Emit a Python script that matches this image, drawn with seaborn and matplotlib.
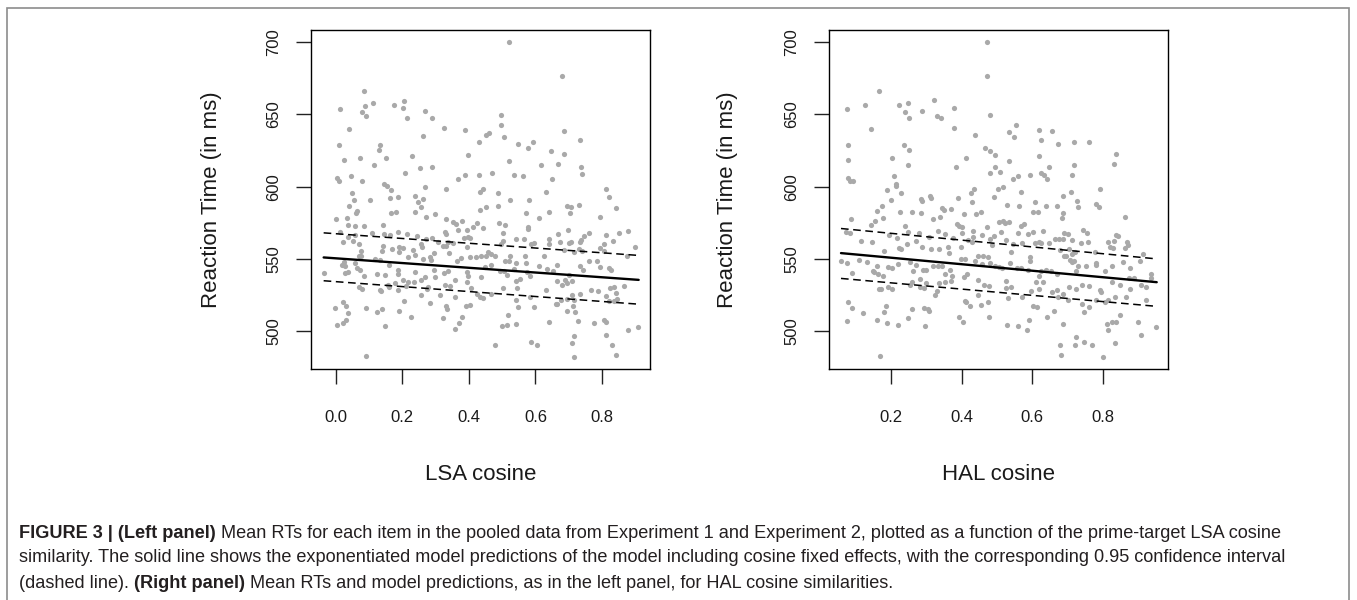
import matplotlib
matplotlib.use("Agg")
import matplotlib.pyplot as plt
import matplotlib.patches as mpatches
import seaborn as sns
import pandas as pd

# ---- data: left panel (LSA cosine) ----
lsa_cos = [0.520, 0.680, 0.085, 0.013, 0.088, 0.113, 0.079, 0.090, 0.175, 0.205, 0.202, 0.215, 0.268, 0.289,
           0.326, 0.039, 0.388, 0.263, 0.496, 0.497, 0.452, 0.462, 0.505, 0.431, 0.010, 0.133, 0.130, 0.026,
           0.073, 0.152, 0.115, 0.228, 0.398, 0.548, 0.579, 0.593, 0.521, 0.647, 0.685, 0.733, 0.686, 0.669,
           0.616, 0.738, 0.739, 0.005, 0.010, 0.046, 0.080, 0.208, 0.252, 0.288, 0.367, 0.387, 0.431, 0.470,
           0.536, 0.562, 0.649, 0.144, 0.155, 0.165, 0.269, 0.332, 0.442, 0.434, 0.489, 0.631, 0.813, 0.820,
           0.048, 0.055, 0.102, 0.162, 0.186, 0.238, 0.261, 0.525, 0.582,
           0.039, 0.246, 0.257, 0.239, 0.063, 0.061, 0.167, 0.182, 0.271, 0.297, 0.330, 0.351, 0.360, 0.379,
           0.423, 0.411, 0.452, 0.434, 0.487, 0.491, 0.509, 0.503, 0.443, 0.394, 0.367, 0.329, 0.331, 0.611,
           0.641, 0.571, 0.578, 0.577, 0.695, 0.708, 0.731, 0.703, 0.795, 0.841, 0.879, 0.852, 0.813, 0.698,
           0.667, 0.733, 0.745, 0.761, 0.737, 0.700, 0.706, 0.673, 0.640, 0.642, 0.595, 0.588, 0.565, 0.541,
           0.503, 0.496, 0.398, 0.404, 0.395, 0.385, 0.353, 0.338, 0.323, 0.306, 0.288, 0.271, 0.256, 0.245,
           0.215, 0.188, 0.164, 0.144, 0.142, 0.108, 0.086, 0.057, 0.036, 0.033, 0.002, 0.022, 0.014, 0.036,
           0.052, 0.057, 0.071, 0.075, 0.138, 0.143, 0.168, 0.189, 0.202, 0.233, 0.259, 0.285, 0.296, 0.283,
           0.262, 0.239, 0.216, 0.191, 0.330, 0.340, 0.363, 0.377, 0.402, 0.420, 0.435, 0.452, 0.457, 0.466,
           0.479, 0.510, 0.520, 0.524, 0.541, 0.570, 0.573, 0.625, 0.666, 0.685, 0.715, 0.731, 0.740, 0.760,
           0.785, 0.795, 0.807, 0.805, 0.832, 0.898, 0.876, 0.793, 0.820, 0.828, 0.735, 0.743, 0.700, 0.690,
           0.679, 0.024, 0.019, 0.028, 0.057, 0.071, 0.077, 0.064, 0.072, 0.029, 0.037, -0.036, 0.119, 0.133,
           0.159, 0.188, 0.188, 0.149, 0.086, 0.123, 0.239, 0.256, 0.268, 0.234, 0.216, 0.201, 0.178, 0.156,
           0.295, 0.299, 0.324, 0.336, 0.357, 0.393, 0.398, 0.438, 0.450, 0.468, 0.493, 0.505, 0.515, 0.554,
           0.541, 0.544, 0.537, 0.575, 0.585, 0.611, 0.634, 0.654, 0.665, 0.696, 0.711, 0.069, 0.079, 0.132,
           0.136, 0.160, 0.186, 0.212, 0.255, 0.274, 0.278, 0.312, 0.328, 0.344, 0.359, 0.395, 0.406, 0.425,
           0.432, 0.442, 0.466, 0.502, 0.542, 0.549, 0.585, 0.596, 0.633, 0.666, 0.676, 0.695, 0.709, 0.717,
           0.735, 0.767, 0.787, 0.813, 0.825, 0.837, 0.843, 0.821, 0.835, 0.867, 0.846, -0.001, 0.022, 0.030,
           0.037, 0.092, 0.125, 0.140, 0.191, 0.204, 0.227, 0.283, 0.323, 0.330, 0.333, 0.390, 0.402, 0.379,
           0.369, 0.357, 0.519, 0.501, 0.516, 0.541, 0.642, 0.662, 0.695, 0.713, 0.718, 0.728, 0.777, 0.805,
           0.812, 0.812, 0.829, 0.842, 0.877, 0.908, 0.715, 0.711, 0.717, 0.604, 0.586, 0.478, 0.148, 0.005,
           0.023, 0.030, 0.090]
lsa_rt = [699.8, 676.3, 666.4, 653.7, 656.0, 657.6, 651.4, 648.7, 656.3, 659.5, 654.2, 647.3, 652.3, 647.3,
          640.4, 639.9, 639.2, 635.3, 649.8, 642.9, 635.8, 637.4, 634.4, 630.7, 628.9, 628.6, 625.2, 618.7,
          619.7, 620.1, 615.3, 621.5, 621.7, 629.6, 626.6, 630.9, 618.0, 625.0, 638.5, 632.1, 622.9, 616.0,
          615.3, 613.7, 609.1, 606.3, 604.0, 607.2, 604.0, 609.5, 613.2, 613.7, 605.4, 608.2, 608.2, 609.8,
          608.2, 607.5, 605.4, 601.9, 600.8, 597.8, 599.9, 598.7, 598.5, 596.2, 595.3, 596.2, 598.5, 593.2,
          595.5, 590.9, 590.9, 592.3, 593.0, 593.7, 591.8, 590.9, 590.9,
          586.5, 589.1, 585.8, 582.4, 583.3, 581.5, 581.7, 582.8, 578.9, 580.8, 577.8, 575.5, 574.3, 576.4,
          575.2, 572.0, 585.8, 583.8, 587.0, 574.8, 573.4, 567.9, 571.3, 570.0, 570.0, 569.0, 567.2, 578.2,
          582.6, 581.7, 572.0, 570.6, 586.8, 585.8, 587.4, 581.7, 578.9, 585.4, 569.7, 567.9, 566.7, 570.2,
          567.0, 561.7, 565.6, 568.1, 563.3, 561.0, 561.7, 562.1, 563.7, 560.7, 561.4, 560.3, 563.7, 563.7,
          562.6, 560.3, 565.3, 564.2, 558.2, 564.4, 561.4, 561.7, 558.9, 562.1, 564.2, 564.0, 560.7, 565.6,
          567.6, 569.0, 566.7, 567.0, 573.6, 568.3, 572.9, 572.9, 573.4, 578.2, 577.5, 561.9, 568.8, 564.9,
          562.8, 566.3, 560.3, 555.4, 555.9, 558.7, 556.8, 558.2, 557.3, 556.4, 558.0, 549.5, 554.1, 551.3,
          549.9, 552.7, 551.3, 555.2, 558.7, 554.1, 548.5, 550.6, 551.3, 551.3, 552.2, 551.8, 555.2, 553.8,
          551.8, 548.3, 548.3, 551.8, 547.2, 551.8, 547.2, 552.2, 545.8, 556.4, 555.2, 557.1, 555.9, 548.8,
          548.8, 557.5, 560.3, 555.9, 562.4, 558.2, 552.2, 544.4, 543.7, 542.1, 544.9, 542.3, 539.1, 535.7,
          532.2, 547.9, 546.2, 544.9, 547.6, 552.2, 551.8, 543.7, 542.6, 540.3, 541.2, 540.3, 550.1, 549.0,
          545.8, 542.6, 539.8, 539.3, 538.4, 539.8, 540.7, 535.7, 537.5, 533.8, 533.8, 535.7, 533.4, 532.4,
          542.1, 537.5, 540.3, 541.9, 535.7, 540.7, 538.0, 537.3, 544.2, 546.0, 541.9, 541.4, 539.3, 536.1,
          535.0, 529.9, 543.0, 540.7, 538.6, 545.3, 543.3, 541.6, 534.5, 533.4, 534.5, 530.4, 529.2, 528.8,
          527.6, 530.6, 528.3, 531.1, 525.1, 529.2, 530.6, 525.1, 532.2, 531.5, 523.9, 534.0, 529.9, 526.0,
          524.1, 522.8, 525.7, 529.9, 521.4, 516.8, 524.1, 516.8, 528.3, 519.1, 521.6, 522.3, 525.3, 521.4,
          525.7, 528.7, 527.6, 524.6, 529.9, 530.4, 526.2, 520.9, 520.9, 531.5, 522.5, 516.5, 520.0, 517.2,
          512.9, 515.9, 513.1, 515.6, 513.8, 520.7, 509.6, 519.3, 509.2, 517.7, 515.6, 517.2, 518.2, 509.6,
          506.0, 501.6, 511.5, 503.4, 504.3, 505.3, 506.6, 518.8, 514.2, 517.2, 513.3, 506.9, 505.5, 507.6,
          506.6, 497.7, 490.3, 483.4, 500.7, 503.2, 496.5, 491.7, 482.5, 490.8, 492.8, 490.8, 503.4, 504.1,
          505.7, 507.6, 482.7]

# ---- right panel (HAL cosine) ----
hal_cos = [0.472, 0.473, 0.165, 0.076, 0.125, 0.222, 0.248, 0.239, 0.250, 0.289, 0.322, 0.330, 0.342, 0.379,
           0.144, 0.377, 0.438, 0.480, 0.555, 0.535, 0.549, 0.619, 0.657, 0.625, 0.672, 0.719, 0.760, 0.077,
           0.237, 0.251, 0.077, 0.204, 0.248, 0.411, 0.383, 0.467, 0.481, 0.495, 0.535, 0.618, 0.649, 0.719,
           0.837, 0.833, 0.207, 0.079, 0.083, 0.093, 0.213, 0.215, 0.189, 0.227, 0.480, 0.508, 0.495, 0.547,
           0.559, 0.593, 0.625, 0.634, 0.641, 0.713, 0.791, 0.426, 0.434, 0.504, 0.516, 0.493, 0.569, 0.686,
           0.709, 0.311, 0.314, 0.390, 0.284, 0.200,
           0.174, 0.159, 0.287, 0.370, 0.345, 0.351, 0.338, 0.320, 0.259, 0.224, 0.286, 0.408, 0.430, 0.440,
           0.454, 0.528, 0.564, 0.609, 0.601, 0.616, 0.638, 0.670, 0.686, 0.684, 0.727, 0.729, 0.780, 0.790,
           0.862, 0.087, 0.144, 0.153, 0.177, 0.073, 0.083, 0.114, 0.147, 0.180, 0.193, 0.216, 0.223, 0.227,
           0.247, 0.239, 0.246, 0.272, 0.280, 0.287, 0.307, 0.312, 0.332, 0.336, 0.353, 0.360, 0.364, 0.376,
           0.386, 0.392, 0.401, 0.400, 0.397, 0.419, 0.432, 0.430, 0.433, 0.457, 0.472, 0.479, 0.486, 0.492,
           0.505, 0.513, 0.517, 0.523, 0.535, 0.526, 0.541, 0.547, 0.561, 0.569, 0.576, 0.572, 0.588, 0.602,
           0.608, 0.620, 0.632, 0.625, 0.649, 0.666, 0.676, 0.686, 0.690, 0.702, 0.679, 0.704, 0.713, 0.713,
           0.722, 0.737, 0.745, 0.754, 0.759, 0.777, 0.816, 0.832, 0.837, 0.844, 0.830, 0.820, 0.869, 0.873,
           0.863, 0.913, 0.905, 0.058, 0.074, 0.109, 0.132, 0.148, 0.161, 0.164, 0.178, 0.192, 0.203, 0.219,
           0.254, 0.263, 0.272, 0.290, 0.298, 0.281, 0.319, 0.334, 0.343, 0.352, 0.366, 0.373, 0.397, 0.409,
           0.414, 0.407, 0.437, 0.447, 0.460, 0.458, 0.474, 0.480, 0.494, 0.505, 0.515, 0.538, 0.558, 0.567,
           0.587, 0.594, 0.595, 0.618, 0.625, 0.638, 0.652, 0.670, 0.690, 0.697, 0.707, 0.712, 0.719, 0.723,
           0.730, 0.752, 0.780, 0.782, 0.807, 0.825, 0.858, 0.877, 0.889, 0.936, 0.088, 0.151, 0.167, 0.170,
           0.190, 0.202, 0.254, 0.260, 0.282, 0.294, 0.298, 0.324, 0.331, 0.336, 0.352, 0.369, 0.446, 0.447,
           0.463, 0.478, 0.474, 0.526, 0.526, 0.531, 0.539, 0.570, 0.597, 0.610, 0.618, 0.630, 0.656, 0.670,
           0.674, 0.686, 0.701, 0.703, 0.725, 0.742, 0.760, 0.780, 0.792, 0.795, 0.827, 0.834, 0.816, 0.806,
           0.848, 0.865, 0.878, 0.908, 0.924, 0.924, 0.937, 0.875, 0.077, 0.088, 0.120, 0.179, 0.185, 0.259,
           0.292, 0.305, 0.307, 0.409, 0.411, 0.424, 0.456, 0.478, 0.601, 0.613, 0.642, 0.661, 0.740, 0.747,
           0.760, 0.075, 0.160, 0.188, 0.219, 0.248, 0.295, 0.393, 0.403, 0.530, 0.561, 0.584, 0.590, 0.687,
           0.812, 0.814, 0.825, 0.838, 0.848, 0.901, 0.909, 0.950, 0.678, 0.681, 0.723, 0.721, 0.748, 0.770,
           0.835, 0.800, 0.169]
hal_rt = [699.8, 676.3, 666.4, 653.7, 656.3, 656.3, 657.6, 651.4, 647.3, 652.6, 659.7, 648.7, 647.3, 654.2,
          639.9, 640.6, 635.5, 649.8, 642.9, 637.6, 634.4, 639.2, 638.5, 632.1, 629.8, 630.7, 630.9, 628.9,
          628.6, 625.2, 618.7, 619.7, 615.3, 620.1, 613.4, 626.6, 625.0, 621.7, 618.0, 621.5, 613.7, 615.3,
          622.9, 616.0, 607.2, 605.8, 604.0, 604.2, 601.9, 600.6, 598.0, 595.7, 609.5, 610.0, 613.7, 605.4,
          607.5, 608.2, 609.3, 608.4, 605.4, 608.2, 598.7, 595.3, 598.5, 598.7, 599.6, 593.0, 596.2, 593.4,
          596.2, 593.7, 592.0, 592.0, 591.3, 590.9,
          586.5, 583.3, 590.2, 584.5, 585.6, 584.0, 579.4, 577.8, 582.8, 582.4, 581.7, 581.2, 589.1, 581.0,
          582.2, 587.2, 586.8, 589.7, 582.4, 582.6, 586.5, 586.8, 581.7, 578.2, 590.2, 585.8, 587.9, 585.8,
          578.9, 577.5, 573.6, 576.2, 578.5, 569.0, 567.9, 562.4, 561.9, 555.9, 566.3, 564.2, 557.7, 556.8,
          568.8, 572.9, 560.3, 562.6, 567.9, 558.0, 564.9, 557.1, 569.3, 557.1, 567.2, 558.0, 554.1, 564.2,
          573.9, 572.9, 572.0, 567.9, 558.0, 563.3, 569.7, 561.9, 565.1, 566.3, 572.0, 564.0, 559.4, 566.0,
          575.5, 569.0, 576.6, 575.2, 575.7, 563.3, 555.2, 560.5, 568.3, 572.9, 574.3, 561.0, 567.0, 568.8,
          561.4, 562.1, 569.3, 561.4, 561.0, 564.0, 563.7, 564.0, 568.3, 567.4, 556.4, 556.8, 563.3, 553.4,
          555.0, 561.0, 570.2, 568.3, 561.7, 555.2, 562.1, 562.8, 566.7, 565.6, 557.5, 558.0, 562.1, 559.8,
          557.5, 553.6, 548.8, 548.8, 547.2, 549.2, 548.1, 541.9, 545.3, 539.8, 538.6, 544.2, 543.7, 546.5,
          547.9, 541.9, 545.6, 542.3, 542.1, 536.3, 544.9, 544.9, 545.3, 539.8, 542.6, 538.4, 549.9, 550.2,
          539.8, 537.5, 548.3, 552.2, 552.2, 546.9, 551.5, 547.2, 544.9, 544.2, 543.7, 547.2, 543.7, 543.9,
          542.1, 551.3, 548.3, 538.4, 541.9, 542.3, 541.9, 539.8, 551.8, 552.2, 549.5, 547.9, 548.8, 541.6,
          544.9, 544.9, 547.6, 545.6, 541.9, 545.3, 548.1, 543.5, 536.6, 539.6, 540.3, 540.7, 529.2, 529.2,
          530.6, 529.2, 532.2, 534.0, 530.6, 529.9, 533.6, 524.8, 527.6, 533.4, 534.0, 534.5, 535.7, 525.3,
          532.2, 531.7, 520.5, 534.7, 530.1, 522.8, 530.6, 523.5, 528.1, 533.8, 529.2, 533.8, 527.4, 528.3,
          524.1, 525.7, 521.8, 530.6, 529.2, 532.0, 531.5, 521.8, 528.7, 526.9, 533.8, 524.1, 521.4, 520.0,
          532.2, 524.1, 529.4, 532.4, 530.8, 521.8, 536.8, 536.6, 520.2, 516.5, 512.6, 513.5, 517.2, 515.4,
          515.9, 515.6, 513.8, 521.1, 520.0, 517.2, 518.4, 509.9, 517.7, 516.8, 509.6, 513.8, 518.8, 513.3,
          516.8, 506.9, 508.0, 505.7, 504.1, 509.4, 503.4, 509.6, 506.2, 504.3, 503.4, 501.3, 507.6, 505.3,
          504.8, 500.7, 506.4, 506.4, 511.5, 506.4, 497.7, 503.0, 490.8, 483.4, 496.3, 490.8, 492.8, 490.3,
          491.7, 482.5, 482.7]

# model predictions and 0.95 CI (end points)
lsa_fit_x = [-0.036, 0.910]
lsa_fit = [551.1, 535.6]
lsa_lo = [535.0, 518.8]
lsa_hi = [568.1, 552.5]
hal_fit_x = [0.058, 0.953]
hal_fit = [554.1, 534.0]
hal_lo = [536.6, 517.3]
hal_hi = [571.1, 550.1]

yticks = [500, 550, 600, 650, 700]
lsa_xticks = [0.0, 0.2, 0.4, 0.6, 0.8]
hal_xticks = [0.2, 0.4, 0.6, 0.8]

sns.set_style("white")
plt.rcParams['font.family'] = ['Liberation Sans', 'DejaVu Sans']

W, H = 1357, 600
fig = plt.figure(figsize=(W / 100, H / 100), dpi=100)

# figure frame
fig.patches.append(mpatches.Rectangle((7 / W, -0.01), (1349 - 7) / W, 1 - 8 / H + 0.01,
                                      transform=fig.transFigure, fill=False,
                                      edgecolor='#8c8c8c', linewidth=1.2))

panels = [
    (311, lsa_cos, lsa_rt, lsa_fit_x, lsa_fit, lsa_lo, lsa_hi, (-0.074, 0.944), lsa_xticks, "LSA cosine"),
    (829, hal_cos, hal_rt, hal_fit_x, hal_fit, hal_lo, hal_hi, (0.024, 0.985), hal_xticks, "HAL cosine"),
]

for left_px, xs, ys, fx, fy, flo, fhi, xlim, xt, xlabel in panels:
    ax = fig.add_axes([left_px / W, 1 - 369 / H, 339 / W, 339 / H])
    df = pd.DataFrame({"cos": xs, "rt": ys})
    sns.scatterplot(data=df, x="cos", y="rt", ax=ax, color='#a9a9a9', s=14, linewidth=0)
    sns.lineplot(x=fx, y=fy, ax=ax, color='black', linewidth=1.7)
    sns.lineplot(x=fx, y=flo, ax=ax, color='black', linewidth=1.1, linestyle=(0, (5, 3)))
    sns.lineplot(x=fx, y=fhi, ax=ax, color='black', linewidth=1.1, linestyle=(0, (5, 3)))
    ax.set_xlim(*xlim)
    ax.set_ylim(474.0, 708.3)
    ax.set_xticks(xt)
    ax.set_xticklabels([f"{v:.1f}" for v in xt])
    ax.set_yticks(yticks)
    ax.set_yticklabels([str(v) for v in yticks], rotation=90, va='center')
    for sp in ax.spines.values():
        sp.set_visible(True)
        sp.set_color('black')
        sp.set_linewidth(1.0)
    ax.tick_params(axis='both', which='major', length=10.5, width=1.0, color='#222222',
                   labelsize=12, labelcolor='#1a1a1a', left=True, bottom=True)
    ax.tick_params(axis='x', pad=19)
    ax.tick_params(axis='y', pad=11)
    ax.set_xlabel(xlabel, fontsize=16, color='#1a1a1a', va='center')
    ax.xaxis.set_label_coords(0.5, (369 - 475) / 339)
    ax.set_ylabel("Reaction Time (in ms)", fontsize=16, color='#1a1a1a', va='center')
    ax.yaxis.set_label_coords((212 - 311) / 339 if left_px == 311 else (727.7 - 829) / 339, 0.5)

# caption with bold runs
cap_size = 13.05
renderer = fig.canvas.get_renderer()


def caption_line(y_px, parts):
    x = 19 / W
    for txt, weight in parts:
        t = fig.text(x, 1 - y_px / H, txt, fontsize=cap_size, fontweight=weight,
                     ha='left', va='center', color='#231f20')
        x += t.get_window_extent(renderer).width / W


caption_line(533, [("FIGURE 3 | (Left panel)", 'bold'),
                   (" Mean RTs for each item in the pooled data from Experiment 1 and Experiment 2, "
                    "plotted as a function of the prime-target LSA cosine", 'normal')])
caption_line(558, [("similarity. The solid line shows the exponentiated model predictions of the model "
                    "including cosine fixed effects, with the corresponding 0.95 confidence interval", 'normal')])
caption_line(583, [("(dashed line).", 'normal'), (" (Right panel)", 'bold'),
                   (" Mean RTs and model predictions, as in the left panel, for HAL cosine similarities.",
                    'normal')])

fig.savefig("out.png", dpi=100)
